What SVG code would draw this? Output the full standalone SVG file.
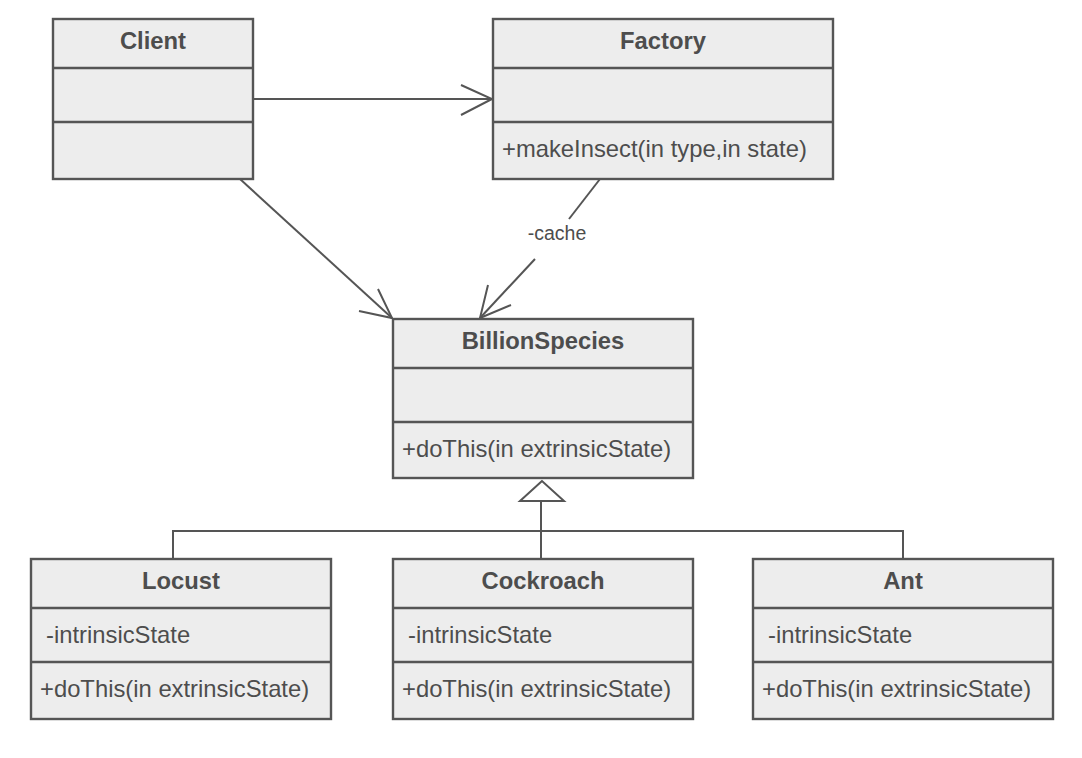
<svg xmlns="http://www.w3.org/2000/svg" width="1082" height="758" viewBox="0 0 1082 758">
<style>
.box{fill:#ededed;stroke:#555;stroke-width:2.4}
.div{stroke:#555;stroke-width:2.4}
.title{font-family:"Liberation Sans",Arial,sans-serif;font-weight:bold;font-size:23.8px;fill:#4d4d4d;text-anchor:middle}
.txt{font-family:"Liberation Sans",Arial,sans-serif;font-size:23.8px;fill:#4d4d4d}
.lbl{font-family:"Liberation Sans",Arial,sans-serif;font-size:19.5px;fill:#4d4d4d;text-anchor:middle}
.con{fill:none;stroke:#555;stroke-width:2}
</style>
<rect width="1082" height="758" fill="#fff"/>
<g id="connectors">
  <line class="con" x1="253" y1="99" x2="492" y2="99"/>
  <polyline class="con" points="461,85 492,99 461,115"/>
  <line class="con" x1="240" y1="179" x2="392" y2="318"/>
  <polyline class="con" points="378,289 392,318 359,311"/>
  <line class="con" x1="600" y1="179" x2="569" y2="219"/>
  <line class="con" x1="535" y1="259" x2="480" y2="318"/>
  <polyline class="con" points="488,285 480,318 511,305"/>
  <text class="lbl" x="557" y="240">-cache</text>
  <polyline class="con" points="173,559 173,531 903,531 903,559"/>
  <line class="con" x1="541" y1="501" x2="541" y2="559"/>
  <polygon points="542,481 520,501 564,501" fill="#fff" stroke="#555" stroke-width="2"/>
</g>
<g id="client">
  <rect class="box" x="53" y="19" width="200" height="160"/>
  <line class="div" x1="53" y1="68" x2="253" y2="68"/>
  <line class="div" x1="53" y1="122" x2="253" y2="122"/>
  <text class="title" x="153" y="48.5">Client</text>
</g>
<g id="factory">
  <rect class="box" x="493" y="19" width="340" height="160"/>
  <line class="div" x1="493" y1="68" x2="833" y2="68"/>
  <line class="div" x1="493" y1="122" x2="833" y2="122"/>
  <text class="title" x="663" y="48.5">Factory</text>
  <text class="txt" x="502" y="157">+makeInsect(in type,in state)</text>
</g>
<g id="billionspecies">
  <rect class="box" x="393" y="319" width="300" height="159"/>
  <line class="div" x1="393" y1="368" x2="693" y2="368"/>
  <line class="div" x1="393" y1="422" x2="693" y2="422"/>
  <text class="title" x="543" y="348.5">BillionSpecies</text>
  <text class="txt" x="402" y="457">+doThis(in extrinsicState)</text>
</g>
<g id="locust">
  <rect class="box" x="31" y="559" width="300" height="160"/>
  <line class="div" x1="31" y1="608" x2="331" y2="608"/>
  <line class="div" x1="31" y1="662" x2="331" y2="662"/>
  <text class="title" x="181" y="588.5">Locust</text>
  <text class="txt" x="46" y="642.5">-intrinsicState</text>
  <text class="txt" x="40" y="697">+doThis(in extrinsicState)</text>
</g>
<g id="cockroach">
  <rect class="box" x="393" y="559" width="300" height="160"/>
  <line class="div" x1="393" y1="608" x2="693" y2="608"/>
  <line class="div" x1="393" y1="662" x2="693" y2="662"/>
  <text class="title" x="543" y="588.5">Cockroach</text>
  <text class="txt" x="408" y="642.5">-intrinsicState</text>
  <text class="txt" x="402" y="697">+doThis(in extrinsicState)</text>
</g>
<g id="ant">
  <rect class="box" x="753" y="559" width="300" height="160"/>
  <line class="div" x1="753" y1="608" x2="1053" y2="608"/>
  <line class="div" x1="753" y1="662" x2="1053" y2="662"/>
  <text class="title" x="903" y="588.5">Ant</text>
  <text class="txt" x="768" y="642.5">-intrinsicState</text>
  <text class="txt" x="762" y="697">+doThis(in extrinsicState)</text>
</g>
</svg>
